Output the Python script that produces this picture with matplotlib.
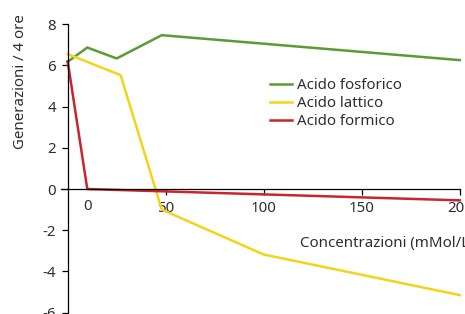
import matplotlib.pyplot as plt

# valori
x_fosforico = [0, 10, 25, 48, 200]
y_fosforico = [6.18, 6.87, 6.34, 7.47, 6.26]

x_lattico = [0, 27, 48, 100, 200]
y_lattico = [6.55, 5.53, -1.0, -3.18, -5.15]

x_formico = [0, 10, 200]
y_formico = [6.2, 0.0, -0.55]

xticks = [50, 100, 150, 200]
yticks = [8, 6, 4, 2, 0, -2, -4, -6]

verde = "#5b9a34"
giallo = "#f1d51a"
rosso = "#c8252c"
testo = "#2e2e2e"

plt.rcParams["font.family"] = ["Noto Sans", "DejaVu Sans"]
plt.rcParams["font.size"] = 10.8
plt.rcParams["axes.unicode_minus"] = False

fig = plt.figure(figsize=(4.65, 3.14), dpi=100)
ax = fig.add_axes([0.1308, -0.0283, 0.9, 0.951])

ax.plot(x_fosforico, y_fosforico, color=verde, lw=1.8, label="Acido fosforico", clip_on=False)
ax.plot(x_lattico, y_lattico, color=giallo, lw=1.8, label="Acido lattico")
ax.plot(x_formico, y_formico, color=rosso, lw=1.8, label="Acido formico")

ax.set_xlim(-3.5, 210)
ax.set_ylim(-6.5, 8)

for s in ["top", "right"]:
    ax.spines[s].set_visible(False)
ax.spines["left"].set_position(("data", 0))
ax.spines["bottom"].set_position(("data", 0))
ax.spines["bottom"].set_bounds(-3.5, 200)
ax.spines["left"].set_bounds(-6.5, 8)
for s in ["left", "bottom"]:
    ax.spines[s].set_linewidth(0.9)

ax.set_xticks(xticks)
ax.set_xticks([10], minor=True)
ax.set_xticklabels([str(t) for t in xticks])
ax.set_xticklabels(["0"], minor=True)
ax.set_yticks(yticks)
ax.tick_params(axis="both", which="major", length=4.3, width=0.9, colors="black",
               labelcolor=testo, pad=4)
ax.tick_params(axis="x", which="minor", length=0, labelcolor=testo, pad=7)

fig.text(300 / 465, 1 - 243 / 314, "Concentrazioni (mMol/L)", ha="left", va="center", color=testo)
fig.text(21 / 465, 1 - 82 / 314, "Generazioni / 4 ore", rotation=90, ha="center", va="center", color=testo)

ax.legend(loc="upper left", bbox_to_anchor=(270 / 465, 1 - 78 / 314), bbox_transform=fig.transFigure,
          frameon=False, borderpad=0, borderaxespad=0, handlelength=1.45, handletextpad=0.35,
          labelspacing=0.2, labelcolor=testo)

fig.savefig("out.png", dpi=100)
